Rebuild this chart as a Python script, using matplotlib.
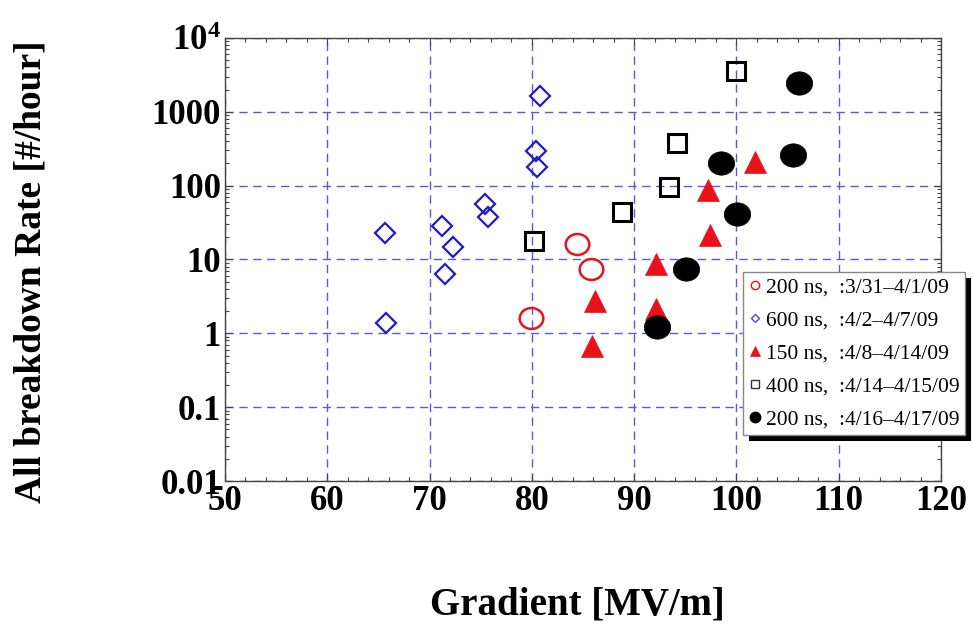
import matplotlib
matplotlib.use("Agg")
import matplotlib.pyplot as plt
from matplotlib.lines import Line2D
from matplotlib.patches import Rectangle
from matplotlib.path import Path
from matplotlib.transforms import Affine2D
from matplotlib.ticker import LogLocator, MultipleLocator, NullFormatter

plt.rcParams["font.family"] = ["Liberation Serif", "DejaVu Serif"]
plt.rcParams["mathtext.fontset"] = "custom"
plt.rcParams["mathtext.rm"] = "Liberation Serif:bold"
plt.rcParams["mathtext.bf"] = "Liberation Serif:bold"
plt.rcParams["mathtext.it"] = "Liberation Serif:bold"

# ---- data: gradient [MV/m] vs breakdown rate [#/hour] ----
x_200a = [84.4, 85.8, 79.9]
y_200a = [16.0, 7.5, 1.63]

x_600 = [65.6, 65.7, 71.2, 72.3, 71.5, 75.4, 75.7, 80.8, 80.4, 80.5]
y_600 = [22.6, 1.39, 28.1, 14.6, 6.45, 56.0, 37.3, 1650.0, 295.0, 179.0]

x_150 = [101.8, 97.2, 97.4, 92.1, 86.2, 92.1, 85.9]
y_150 = [209.0, 87.0, 21.2, 8.8, 2.77, 2.15, 0.68]

x_400 = [80.2, 88.8, 93.4, 94.2, 100.0]
y_400 = [17.6, 43.6, 95.5, 379.0, 3610.0]

x_200b = [92.2, 95.1, 100.1, 98.5, 105.5, 106.1]
y_200b = [1.23, 7.5, 41.0, 202.0, 260.0, 2480.0]

series_labels = [
    "200 ns,  :3/31\u20134/1/09",
    "600 ns,  :4/2\u20134/7/09",
    "150 ns,  :4/8\u20134/14/09",
    "400 ns,  :4/14\u20134/15/09",
    "200 ns,  :4/16\u20134/17/09",
]

x_ticks = [50, 60, 70, 80, 90, 100, 110, 120]
y_ticks = [0.01, 0.1, 1, 10, 100, 1000, 10000]
y_tick_labels = ["0.01", "0.1", "1", "10", "100", "1000", r"$10^{4}$"]

RED = "#e8121a"
BLUE = "#1c1cc8"
GRID = "#5a5ad8"

# slightly wide ellipse used for the round markers
ellipse = Path.unit_circle().transformed(Affine2D().scale(1.13, 1.0))

fig = plt.figure(figsize=(9.73, 6.34), dpi=100)
ax = fig.add_axes([0.2312, 0.2413, 0.7359, 0.6988])

ax.plot(x_600, y_600, ls="none", marker="D", ms=10, mfc="none", mec=BLUE, mew=1.6, zorder=3)
ax.plot(x_200a, y_200a, ls="none", marker=ellipse, ms=17, mfc="none", mec=RED, mew=1.8, zorder=3)
ax.plot(x_150, y_150, ls="none", marker="^", ms=16, mfc=RED, mec=RED, mew=0.5, zorder=3)
ax.plot(x_400, y_400, ls="none", marker="s", ms=13.5, mfc="none", mec="black", mew=2.2, zorder=3)
ax.plot(x_200b, y_200b, ls="none", marker=ellipse, ms=19, mfc="black", mec="black", mew=0.5, zorder=3)

ax.set_yscale("log")
ax.set_xlim(50, 120)
ax.set_ylim(0.01, 10000)
ax.set_xticks(x_ticks)
ax.set_yticks(y_ticks, y_tick_labels)
ax.xaxis.set_minor_locator(MultipleLocator(2))
ax.yaxis.set_minor_locator(LogLocator(base=10, subs=range(2, 10), numticks=20))
ax.yaxis.set_minor_formatter(NullFormatter())

ax.tick_params(which="both", direction="in", top=True, right=True, color="#444444", width=0.8)
ax.tick_params(which="major", length=5)
ax.tick_params(which="minor", length=3)
ax.tick_params(axis="x", pad=3, labelsize=25)
ax.tick_params(axis="y", pad=3, labelsize=25)
for lab in ax.get_xticklabels() + ax.get_yticklabels():
    lab.set_fontweight("bold")
for sp in ax.spines.values():
    sp.set_color("#444444")
    sp.set_linewidth(1.0)

ax.grid(True, which="major", color=GRID, linestyle=(0, (6, 4)), linewidth=1.0)
ax.set_axisbelow(True)

fig.text(577 / 973, 1 - 605 / 634, "Gradient [MV/m]", fontsize=28, fontweight="bold",
         ha="center", va="center")
fig.text(31 / 973, 1 - 272 / 634, "All breakdown Rate [#/hour]", fontsize=27,
         fontweight="bold", rotation=90, ha="center", va="center")

handles = [
    Line2D([], [], ls="none", marker="o", ms=6, mfc="none", mec=RED, mew=1.0),
    Line2D([], [], ls="none", marker="D", ms=4.0, mfc="none", mec="#4a4ad0", mew=1.0),
    Line2D([], [], ls="none", marker="^", ms=6.5, mfc=RED, mec=RED, mew=0.5),
    Line2D([], [], ls="none", marker="s", ms=6, mfc="none", mec="#333333", mew=1.0),
    Line2D([], [], ls="none", marker="o", ms=7.5, mfc="black", mec="black"),
]
leg = fig.legend(handles, series_labels, loc="upper left",
                 bbox_to_anchor=(743 / 973, 1 - 272 / 634), borderaxespad=0,
                 fontsize=15.5, frameon=True, fancybox=False, framealpha=1,
                 edgecolor="#888888", handlelength=0.6, handletextpad=0.2,
                 labelspacing=0.6, borderpad=0.25)
leg.get_frame().set_linewidth(1.0)
leg.set_zorder(6)

# offset black drop shadow behind the legend box
fig.canvas.draw()
bb = leg.get_window_extent().transformed(fig.transFigure.inverted())
dx, dy = 6 / 973, 6 / 634
shadow = Rectangle((bb.x0 + dx, bb.y0 - dy), bb.width, bb.height,
                   transform=fig.transFigure, facecolor="black", edgecolor="none", zorder=5)
fig.add_artist(shadow)

fig.savefig("out.png", dpi=100)
